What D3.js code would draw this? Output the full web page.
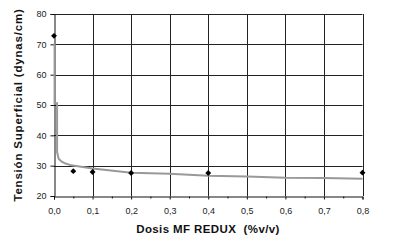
<!DOCTYPE html>
<html>
<head>
<meta charset="utf-8">
<script src="https://cdn.jsdelivr.net/npm/d3@7"></script>
<style>
  body { margin: 0; background: #fff; }
  svg { font-family: "Liberation Sans", Arial, sans-serif; }
</style>
</head>
<body>
<svg id="chart" width="400" height="244"></svg>
<script>
// measured points (diamonds)
var dose = [0.0, 0.05, 0.1, 0.2, 0.4, 0.8];
var tension = [72.8, 28.2, 27.9, 27.6, 27.6, 27.7];

// fitted curve (grey line)
var fitDose = [0.0015, 0.0015, 0.008, 0.008, 0.012, 0.02, 0.03, 0.045, 0.1, 0.2, 0.3, 0.4, 0.5, 0.6, 0.7, 0.8];
var fitTension = [70.3, 50.6, 50.6, 34.5, 32.3, 31.3, 30.7, 30.1, 29.1, 27.7, 27.3, 26.7, 26.4, 26.0, 25.9, 25.7];

var xTicks = [0, 0.1, 0.2, 0.3, 0.4, 0.5, 0.6, 0.7, 0.8];
var xMinor = [0.05, 0.15, 0.25, 0.35, 0.45, 0.55, 0.65, 0.75];
var yTicks = [20, 30, 40, 50, 60, 70, 80];

var svg = d3.select("#chart");
var mLeft = 54, mRight = 362.5, mTop = 14, mBottom = 196;

var x = d3.scaleLinear().domain([0, 0.8]).range([mLeft, mRight]);
var y = d3.scaleLinear().domain([20, 80]).range([mBottom, mTop]);

var fmt = function(d) { return d3.format(".1f")(d).replace(".", ","); };

// grid
svg.append("g").selectAll("line").data(yTicks.slice(1)).enter().append("line")
    .attr("x1", mLeft).attr("x2", mRight)
    .attr("y1", d => Math.round(y(d)) + 0.5).attr("y2", d => Math.round(y(d)) + 0.5)
    .attr("stroke", "#222").attr("stroke-width", 1);
svg.append("g").selectAll("line").data(xTicks.slice(1)).enter().append("line")
    .attr("x1", d => Math.round(x(d)) + 0.5).attr("x2", d => Math.round(x(d)) + 0.5)
    .attr("y1", mTop).attr("y2", mBottom)
    .attr("stroke", "#222").attr("stroke-width", 1);

// axes
svg.append("g")
    .attr("transform", "translate(0," + (mBottom + 0.5) + ")")
    .call(d3.axisBottom(x).tickValues(xTicks).tickFormat(fmt).tickSize(3).tickPadding(8));
var xMinorAxis = svg.append("g")
    .attr("transform", "translate(0," + (mBottom + 0.5) + ")")
    .call(d3.axisBottom(x).tickValues(xMinor).tickFormat("").tickSize(2));
xMinorAxis.select(".domain").remove();

svg.append("g")
    .attr("transform", "translate(" + (mLeft + 0.5) + ",0)")
    .call(d3.axisLeft(y).tickValues(yTicks).tickSize(4).tickPadding(4));

svg.selectAll(".domain, .tick line").attr("stroke", "#111");
svg.selectAll(".tick text").attr("font-size", 9).attr("fill", "#222")
    .attr("font-family", "Liberation Sans, Arial, sans-serif");

// fitted curve
svg.append("path")
    .datum(d3.zip(fitDose, fitTension))
    .attr("fill", "none")
    .attr("stroke", "#999")
    .attr("stroke-width", 2)
    .attr("d", d3.line().x(d => x(d[0])).y(d => y(d[1])));

// diamonds
svg.append("g").selectAll("path").data(d3.zip(dose, tension)).enter().append("path")
    .attr("transform", d => "translate(" + x(d[0]) + "," + y(d[1]) + ")")
    .attr("d", d3.symbol().type(d3.symbolDiamond2).size(22))
    .attr("fill", "#000");

// titles
svg.append("text")
    .attr("x", 208).attr("y", 233)
    .attr("text-anchor", "middle")
    .attr("font-size", 11.5).attr("font-weight", "bold").attr("fill", "#111")
    .attr("letter-spacing", 0.4)
    .attr("xml:space", "preserve")
    .text("Dosis MF REDUX  (%v/v)");

svg.append("text")
    .attr("transform", "translate(22,105) rotate(-90)")
    .attr("text-anchor", "middle")
    .attr("font-size", 11.5).attr("font-weight", "bold").attr("fill", "#111")
    .attr("letter-spacing", 0.8)
    .text("Tensión Superficial (dynas/cm)");
</script>
</body>
</html>
